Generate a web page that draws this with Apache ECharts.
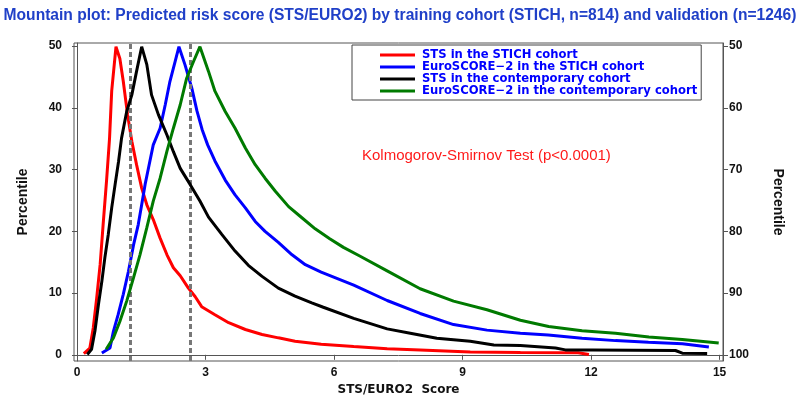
<!DOCTYPE html>
<html>
<head>
<meta charset="utf-8">
<script src="https://cdn.jsdelivr.net/npm/echarts@6/dist/echarts.min.js"></script>
<style>html,body{margin:0;padding:0;background:#fff;}#c{width:800px;height:403px;}</style>
</head>
<body>
<div id="c"></div>
<script>
// ---- data (x = STS/EURO2 score, y = folded percentile) ----
const seriesNames = [
  'STS in the STICH cohort',
  'EuroSCORE\u22122 in the STICH cohort',
  'STS in the contemporary cohort',
  'EuroSCORE\u22122 in the contemporary cohort'
];
const stsStich = [[0.16,0.2],[0.30,1.1],[0.38,4.4],[0.46,9.2],[0.54,14.6],[0.61,21.1],[0.69,28.2],[0.76,35.1],[0.81,42.7],[0.91,49.9],[1.0,48],[1.08,44.3],[1.18,38.9],[1.28,34.6],[1.39,30.8],[1.51,27.0],[1.63,24.3],[1.78,21.9],[1.94,18.9],[2.10,16.2],[2.25,14.1],[2.41,12.8],[2.60,10.8],[2.76,9.4],[2.91,7.8],[3.22,6.5],[3.54,5.2],[3.93,4.1],[4.32,3.3],[4.70,2.75],[5.09,2.2],[5.70,1.7],[6.46,1.35],[7.24,1.0],[8.01,0.8],[9.18,0.45],[10.35,0.37],[11.7,0.35],[11.95,0.05]];
const euroStich = [[0.58,0.3],[0.77,1.1],[0.85,3.8],[0.96,6.5],[1.08,9.8],[1.20,13.5],[1.32,17.8],[1.43,21.1],[1.51,24.3],[1.59,27.6],[1.67,30.3],[1.78,34.0],[1.94,36.7],[2.06,40.5],[2.17,44.3],[2.29,47.5],[2.38,49.9],[2.52,47.0],[2.68,43.2],[2.80,39.5],[2.92,36.5],[3.05,34.0],[3.22,31.4],[3.46,28.3],[3.69,25.9],[3.93,23.8],[4.16,21.6],[4.39,20.0],[4.70,18.2],[5.02,16.2],[5.33,14.6],[5.70,13.4],[6.46,11.3],[7.24,8.8],[8.01,6.7],[8.79,4.9],[9.57,4.0],[10.35,3.5],[11.0,3.2],[11.79,2.7],[12.57,2.3],[13.34,2.05],[14.13,1.8],[14.75,1.25]];
const stsContemp = [[0.24,0.05],[0.34,0.9],[0.42,3.9],[0.50,8.1],[0.58,11.9],[0.65,15.7],[0.73,19.5],[0.81,23.8],[0.89,27.6],[0.97,31.3],[1.04,35.1],[1.16,39.4],[1.28,42.1],[1.39,45.9],[1.51,49.9],[1.63,47],[1.74,42.1],[1.90,38.9],[2.10,35.6],[2.25,32.9],[2.41,30.2],[2.64,27.6],[2.87,24.9],[3.07,22.3],[3.38,19.5],[3.69,16.8],[4.00,14.5],[4.32,12.7],[4.70,10.8],[5.09,9.5],[5.48,8.4],[5.75,7.7],[6.46,5.9],[7.24,4.2],[7.78,3.5],[8.40,2.7],[9.18,2.2],[9.73,1.6],[10.35,1.5],[11.17,1.1],[11.40,0.8],[12.03,0.8],[13.97,0.7],[14.13,0.27],[14.71,0.2]];
const euroContemp = [[0.68,0.9],[0.85,2.75],[1.00,5.4],[1.16,8.7],[1.32,12.5],[1.47,16.2],[1.63,20.6],[1.78,24.9],[1.94,28.6],[2.10,33.0],[2.25,36.7],[2.41,40.5],[2.56,44.8],[2.72,47.5],[2.87,49.9],[3.07,45.9],[3.22,42.7],[3.46,39.4],[3.69,36.7],[3.93,33.5],[4.16,30.8],[4.39,28.6],[4.63,26.5],[4.94,24.0],[5.25,22.2],[5.56,20.4],[5.90,18.8],[6.22,17.4],[6.60,16.0],[7.24,13.6],[8.01,10.7],[8.79,8.7],[9.57,7.3],[10.35,5.6],[11.01,4.6],[11.79,3.9],[12.57,3.5],[13.35,2.9],[14.13,2.5],[14.98,1.9]];
const cutoffs = [1.24, 2.64];
const xTicks = [0, 3, 6, 9, 12, 15];
const yTicksLeft = [0, 10, 20, 30, 40, 50];
const yTicksRight = [50, 60, 70, 80, 90, 100];
const colors = ['#ff0000', '#0000ff', '#000000', '#007a00'];
const seriesData = [stsStich, euroStich, stsContemp, euroContemp];

const tickFont = {fontFamily: 'Liberation Sans, Arial, sans-serif', fontWeight: 'bold', fontSize: 12, color: '#111'};

const chart = echarts.init(document.getElementById('c'), null, {renderer: 'canvas'});
const series = seriesData.map((d, i) => ({
  name: seriesNames[i],
  type: 'line',
  data: d,
  showSymbol: false,
  symbol: 'none',
  lineStyle: {color: colors[i], width: 3},
  itemStyle: {color: colors[i]},
  z: 3 + i,
  animation: false
}));
series[0].markLine = {
  silent: true,
  symbol: 'none',
  label: {show: false},
  lineStyle: {color: '#777', type: [5, 3], width: 3},
  data: cutoffs.map(v => ({xAxis: v})),
  animation: false
};

chart.setOption({
  animation: false,
  backgroundColor: '#fff',
  title: {
    text: 'Mountain plot: Predicted risk score (STS/EURO2) by training cohort (STICH, n=814) and validation (n=1246)',
    left: 'center', top: 3,
    textStyle: {fontFamily: 'Liberation Sans, Arial, sans-serif', fontWeight: 'bold', fontSize: 15.6, color: '#2040c8'}
  },
  legend: {
    orient: 'vertical',
    left: 352, top: 45,
    padding: [4, 4, 3, 28],
    itemGap: 0,
    itemWidth: 35, itemHeight: 3,
    icon: 'rect',
    backgroundColor: '#fff',
    borderColor: '#444', borderWidth: 1, borderRadius: 0,
    data: seriesNames,
    textStyle: {fontFamily: 'DejaVu Sans, sans-serif', fontWeight: 'bold', fontSize: 11.6, color: '#0000ff', lineHeight: 10.3, padding: [0, 0, 0, 2]}
  },
  grid: {left: 74, right: 77, top: 43, bottom: 42, show: true, borderColor: '#555', borderWidth: 1, containLabel: false},
  xAxis: {
    type: 'value', min: -0.07, max: 15.08,
    name: 'STS/EURO2  Score', nameLocation: 'middle', nameGap: 16,
    nameTextStyle: {fontFamily: 'DejaVu Sans, sans-serif', fontWeight: 'bold', fontSize: 12, color: '#111'},
    axisLine: {show: true, lineStyle: {color: '#555'}},
    axisTick: {show: true, length: 5, lineStyle: {color: '#555'}, customValues: xTicks},
    axisLabel: Object.assign({margin: 6, customValues: xTicks}, tickFont),
    splitLine: {show: false}
  },
  yAxis: [{
    type: 'value', min: -1, max: 50.5, position: 'left',
    name: 'Percentile', nameLocation: 'middle', nameGap: 44, nameRotate: 90,
    nameTextStyle: {fontFamily: 'Liberation Sans, Arial, sans-serif', fontWeight: 'bold', fontSize: 14, color: '#111'},
    axisLine: {show: true, lineStyle: {color: '#555'}},
    axisTick: {show: true, length: 5, lineStyle: {color: '#555'}, customValues: yTicksLeft},
    axisLabel: Object.assign({margin: 12, customValues: yTicksLeft}, tickFont),
    splitLine: {show: false}
  }, {
    type: 'value', min: 49.5, max: 101, inverse: true, position: 'right',
    name: 'Percentile', nameLocation: 'middle', nameGap: 48, nameRotate: -90,
    nameTextStyle: {fontFamily: 'Liberation Sans, Arial, sans-serif', fontWeight: 'bold', fontSize: 14, color: '#111'},
    axisLine: {show: true, lineStyle: {color: '#555'}},
    axisTick: {show: true, length: 5, lineStyle: {color: '#555'}, customValues: yTicksRight},
    axisLabel: Object.assign({margin: 6, customValues: yTicksRight}, tickFont),
    splitLine: {show: false}
  }],
  graphic: [{
    type: 'text', left: 362, top: 148,
    style: {text: 'Kolmogorov-Smirnov Test (p<0.0001)', fill: '#ff1a1a', font: '15px "Liberation Sans", Arial, sans-serif'}
  }],
  series: series
});
</script>
</body>
</html>
